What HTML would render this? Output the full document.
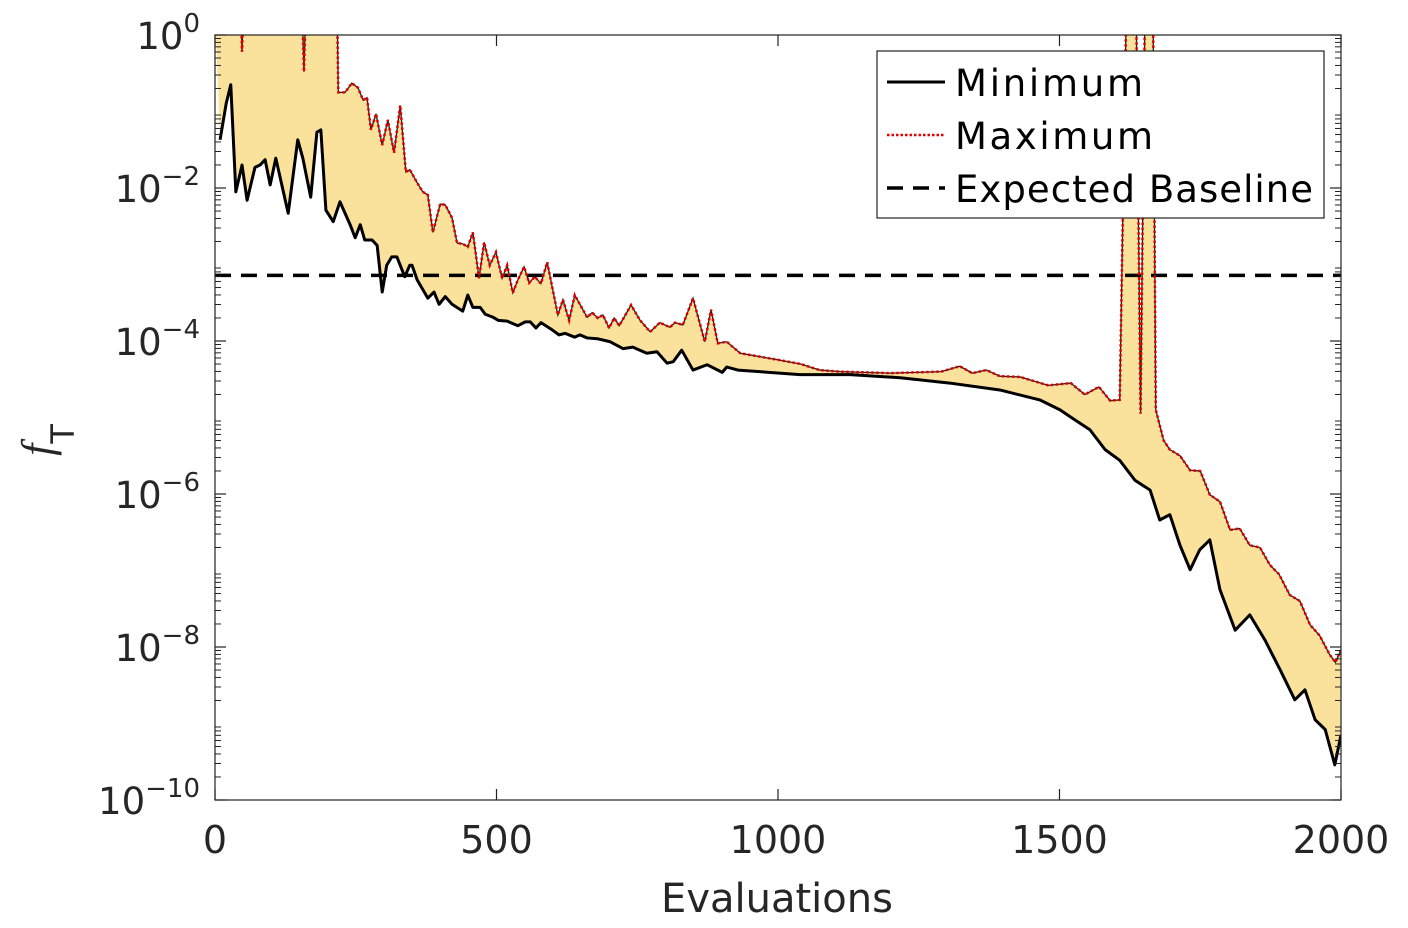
<!DOCTYPE html>
<html><head><meta charset="utf-8"><style>
body{margin:0;background:#fff;}
svg{display:block;font-family:"DejaVu Sans","Liberation Sans",sans-serif;}
</style></head><body>
<svg id="chart" width="1408" height="928" viewBox="0 0 1408 928">
<defs><clipPath id="pc"><rect x="215" y="35" width="1126" height="765"/></clipPath></defs>
<rect x="0" y="0" width="1408" height="928" fill="#fff"/>
<g id="plot" clip-path="url(#pc)"></g>
<g id="axes"></g>
<text x="777" y="912" text-anchor="middle" font-size="40" fill="#262626">Evaluations</text>
<text x="52" y="440" font-size="44" fill="#262626" font-style="italic" font-family="Liberation Serif" text-anchor="middle" transform="rotate(-90 52 440)">f<tspan dy="22" font-size="32" font-style="normal" font-family="DejaVu Sans">T</tspan></text>
<g>
<rect x="877" y="51" width="447" height="167" fill="#fff" stroke="#222" stroke-width="1.2"/>
<line x1="887" y1="82" x2="945" y2="82" stroke="#000" stroke-width="3"/>
<text x="955" y="96" font-size="37" textLength="188" fill="#000">Minimum</text>
<line x1="887" y1="135" x2="945" y2="135" stroke="#e00000" stroke-width="2.5" stroke-dasharray="2.5,2"/>
<text x="955" y="149" font-size="37" textLength="198" fill="#000">Maximum</text>
<line x1="887" y1="188" x2="945" y2="188" stroke="#000" stroke-width="3.5" stroke-dasharray="16,10"/>
<text x="955" y="202" font-size="37" textLength="358" fill="#000">Expected Baseline</text>
</g>
</svg>
<script>
// log10 of f_T values
const evalsMin = [9,20,28,37,48,57,71,80,89,98,108,130,147,156,170,181,188,197,210,222,240,249,258,266,279,288,297,305,314,323,337,346,350,359,378,389,398,409,421,440,449,458,471,480,494,503,519,538,551,560,570,579,600,611,622,639,648,661,679,702,725,742,767,785,803,814,829,849,874,901,909,929,1039,1128,1217,1305,1394,1465,1501,1527,1554,1581,1607,1634,1661,1678,1696,1714,1732,1749,1767,1785,1812,1838,1865,1892,1918,1936,1954,1972,1989,2000];
const minLog = [-1.37,-0.89,-0.65,-2.05,-1.70,-2.16,-1.73,-1.70,-1.63,-1.96,-1.61,-2.33,-1.37,-1.61,-2.12,-1.27,-1.24,-2.29,-2.44,-2.18,-2.48,-2.65,-2.48,-2.68,-2.68,-2.75,-3.36,-3.01,-2.90,-2.90,-3.16,-3.01,-3.01,-3.20,-3.44,-3.36,-3.52,-3.42,-3.52,-3.61,-3.40,-3.56,-3.56,-3.65,-3.69,-3.73,-3.74,-3.80,-3.75,-3.75,-3.83,-3.76,-3.86,-3.92,-3.90,-3.95,-3.92,-3.96,-3.97,-4.01,-4.10,-4.08,-4.16,-4.14,-4.29,-4.27,-4.12,-4.38,-4.31,-4.41,-4.34,-4.38,-4.44,-4.44,-4.48,-4.55,-4.64,-4.77,-4.90,-5.03,-5.16,-5.42,-5.56,-5.82,-5.95,-6.34,-6.27,-6.67,-6.99,-6.73,-6.60,-7.25,-7.78,-7.58,-7.91,-8.30,-8.69,-8.56,-8.95,-9.08,-9.54,-9.15];
const evalsMax = [0,46,48,50,155,158,161,217,219,231,243,254,263,270,277,286,297,307,318,329,339,346,359,369,378,387,400,409,421,430,440,449,458,469,478,488,499,510,519,529,538,549,558,568,579,590,609,618,629,639,661,670,680,689,700,709,718,739,755,773,790,808,817,831,849,870,881,893,909,933,1003,1040,1074,1110,1200,1290,1323,1345,1370,1394,1430,1480,1520,1545,1570,1590,1607,1619,1636,1644,1652,1666,1671,1685,1696,1714,1732,1750,1767,1785,1803,1820,1838,1856,1874,1890,1909,1927,1945,1962,1980,1990,2000];
const maxLog = [0.3,0.3,-0.22,0.3,0.3,-0.48,0.3,0.3,-0.75,-0.75,-0.63,-0.69,-0.85,-0.82,-1.24,-1.03,-1.44,-1.11,-1.54,-0.92,-1.79,-1.76,-1.93,-2.05,-2.09,-2.58,-2.21,-2.22,-2.39,-2.72,-2.73,-2.77,-2.58,-3.18,-2.71,-3.01,-2.84,-3.18,-3.01,-3.37,-3.20,-3.03,-3.24,-3.16,-3.25,-2.97,-3.66,-3.46,-3.73,-3.40,-3.69,-3.63,-3.70,-3.66,-3.83,-3.70,-3.80,-3.53,-3.73,-3.88,-3.76,-3.82,-3.76,-3.79,-3.44,-4.01,-3.59,-4.03,-4.01,-4.16,-4.25,-4.30,-4.38,-4.40,-4.42,-4.40,-4.33,-4.42,-4.38,-4.46,-4.47,-4.58,-4.55,-4.70,-4.60,-4.78,-4.77,0.5,0.5,-4.95,0.5,0.5,-4.90,-5.30,-5.42,-5.50,-5.69,-5.70,-6.01,-6.10,-6.47,-6.45,-6.67,-6.70,-6.93,-7.05,-7.32,-7.40,-7.71,-7.85,-8.10,-8.20,-8.04];
const baselineValue = 7.2e-4;
const xTicks = [0,500,1000,1500,2000];
const yTickExps = [0,-2,-4,-6,-8,-10];

const NS="http://www.w3.org/2000/svg";
const X0=215,X1=1341,YT=35,YB=800;
const xs=v=>X0+(v/2000)*(X1-X0);
const ys=l=>YT+(0-l)/10*(YB-YT);
function mk(tag,attrs,parent){const e=document.createElementNS(NS,tag);for(const k in attrs)e.setAttribute(k,attrs[k]);parent.appendChild(e);return e;}
const plot=document.getElementById('plot'),axes=document.getElementById('axes');

const topPts=evalsMax.map((e,i)=>xs(e)+','+ys(maxLog[i]));
const botPts=evalsMin.map((e,i)=>xs(e)+','+ys(minLog[i])).reverse();
const fill=mk('polygon',{points:topPts.concat(botPts).join(' '),fill:'#fbe29c'},plot);



const bl=mk('line',{x1:X0,x2:X1,y1:ys(Math.log10(baselineValue)),y2:ys(Math.log10(baselineValue)),stroke:'#000','stroke-width':3.5,'stroke-dasharray':'16,10'},plot);



const mxB=mk('polyline',{points:topPts.join(' '),fill:'none',stroke:'#222','stroke-width':1.3},plot);


const mx=mk('polyline',{points:topPts.join(' '),fill:'none',stroke:'#e00000','stroke-width':2.5,'stroke-dasharray':'2.5,2.5'},plot);



const mn=mk('polyline',{points:evalsMin.map((e,i)=>xs(e)+','+ys(minLog[i])).join(' '),fill:'none',stroke:'#000','stroke-width':3,'stroke-linejoin':'round'},plot);



const fr=mk('rect',{x:X0,y:YT,width:X1-X0,height:YB-YT,fill:'none',stroke:'#222','stroke-width':1.2},axes);



xTicks.forEach(t=>{
  const x=xs(t);
  mk('line',{x1:x,x2:x,y1:YB,y2:YB-11,stroke:'#222','stroke-width':1.2},axes);
  mk('line',{x1:x,x2:x,y1:YT,y2:YT+11,stroke:'#222','stroke-width':1.2},axes);
  const tx=mk('text',{x:x,y:853,'text-anchor':'middle','font-size':38,fill:'#262626'},axes);
  tx.textContent=t;
  
  
});
for(let d=0;d>-10;d--){
  for(let k=2;k<=9;k++){
    const y=ys(d-1+Math.log10(k));
    mk('line',{x1:X0,x2:X0+6,y1:y,y2:y,stroke:'#222','stroke-width':1},axes);
    mk('line',{x1:X1,x2:X1-6,y1:y,y2:y,stroke:'#222','stroke-width':1},axes);
  }
}
yTickExps.forEach(e=>{
  const y=ys(e);
  mk('line',{x1:X0,x2:X0+11,y1:y,y2:y,stroke:'#222','stroke-width':1.2},axes);
  mk('line',{x1:X1,x2:X1-11,y1:y,y2:y,stroke:'#222','stroke-width':1.2},axes);
  const tx=mk('text',{x:200,y:y+14,'text-anchor':'end','font-size':37,fill:'#262626'},axes);
  const b=document.createElementNS(NS,'tspan');b.textContent='10';tx.appendChild(b);
  const s=document.createElementNS(NS,'tspan');s.setAttribute('dy','-17');s.setAttribute('font-size','26');s.textContent=(e<0?'\u2212':'')+Math.abs(e);tx.appendChild(s);
  
  
});
</script>
</body></html>
